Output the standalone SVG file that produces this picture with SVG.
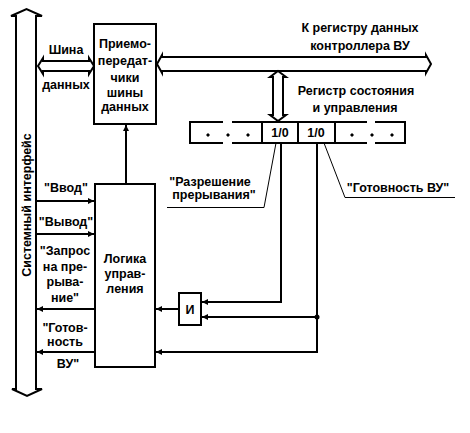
<svg xmlns="http://www.w3.org/2000/svg" width="470" height="433" viewBox="0 0 470 433">
<style>
.t{font-family:"Liberation Sans",Arial,sans-serif;font-weight:bold;font-size:12.5px;fill:#000;text-anchor:middle}
.ln{stroke:#000;stroke-width:2;fill:none}
.thin{stroke:#000;stroke-width:1;fill:none}
.box{fill:#fff;stroke:#000;stroke-width:2}
.bus{fill:#fff;stroke:#000;stroke-width:2;stroke-linejoin:miter}
</style>
<defs>
<marker id="ah" markerUnits="userSpaceOnUse" markerWidth="7" markerHeight="7" refX="6" refY="3" orient="auto">
<path d="M0,0 L6,3 L0,6 z" fill="#000"/>
</marker>
</defs>
<rect width="470" height="433" fill="#fff"/>

<g id="system-interface">
<path class="bus" d="M16,389 L16,16 L11,16 L26.5,9 L42,16 L36,16 L36,389 L42,389 L27,396 L12,389 Z"/>
<text class="t" transform="translate(31,205) rotate(-90)">Системный интерфейс</text>
</g>

<g id="data-bus-left">
<path class="bus" d="M38,66 L43,58 L43,61 L89,61 L89,58 L94,66 L89,74 L89,71 L43,71 L43,74 Z"/>
<text class="t" x="66" y="54">Шина</text>
<text class="t" x="66" y="89">данных</text>
</g>

<g id="data-bus-top">
<path class="bus" d="M157,64 L162,55 L162,57 L426,57 L426,55 L431,64 L426,73 L426,71 L162,71 L162,73 Z"/>
<text class="t" x="360" y="32">К регистру данных</text>
<text class="t" x="360" y="50">контроллера ВУ</text>
</g>

<g id="reg-bus">
<path class="bus" d="M278,71 L286,77 L283,77 L283,115 L286,115 L278,121 L270,115 L273,115 L273,77 L270,77 Z"/>
<text class="t" x="356" y="95">Регистр состояния</text>
<text class="t" x="355" y="112">и управления</text>
</g>

<g id="transceivers">
<rect class="box" x="94" y="24" width="62" height="100"/>
<text class="t" x="125" y="48">Приемо-</text>
<text class="t" x="125" y="65">передат-</text>
<text class="t" x="125" y="82">чики</text>
<text class="t" x="125" y="97">шины</text>
<text class="t" x="125" y="111">данных</text>
</g>

<g id="logic">
<rect class="box" x="95" y="184" width="60" height="183"/>
<text class="t" x="125" y="263">Логика</text>
<text class="t" x="125" y="278">управ-</text>
<text class="t" x="125" y="293">ления</text>
</g>

<g id="and-gate">
<rect class="box" x="179" y="293" width="22" height="32"/>
<text class="t" x="190" y="314">И</text>
</g>

<g id="register">
<path class="ln" d="M223,122 L190,122 L190,143 L223,143 M232,122 L367,122 M232,143 L367,143 M375,122 L405,122 L405,143 L375,143 M262,122 L262,143 M298,122 L298,143 M335,122 L335,143"/>
<g fill="#000">
<path d="M208,133 l2,2 l-2,2 l-2,-2 z"/>
<path d="M228,133 l2,2 l-2,2 l-2,-2 z"/>
<path d="M248,133 l2,2 l-2,2 l-2,-2 z"/>
<path d="M352,133 l2,2 l-2,2 l-2,-2 z"/>
<path d="M372,133 l2,2 l-2,2 l-2,-2 z"/>
<path d="M392,133 l2,2 l-2,2 l-2,-2 z"/>
</g>
<text class="t" x="280" y="137">1/0</text>
<text class="t" x="316" y="137">1/0</text>
</g>

<g id="labels">
<text class="t" x="210" y="186">"Разрешение</text>
<text class="t" x="214" y="199">прерывания"</text>
<path class="thin" d="M167,207.5 L264,207.5 L276,143"/>
<text class="t" x="398" y="192">"Готовность ВУ"</text>
<path class="thin" d="M455,197.5 L345,197.5 L324,143"/>
<text class="t" x="66" y="192">"Ввод"</text>
<text class="t" x="66" y="226">"Вывод"</text>
<text class="t" x="65" y="255">"Запрос</text>
<text class="t" x="65" y="271">на пре-</text>
<text class="t" x="65" y="286">рыва-</text>
<text class="t" x="65" y="302">ние"</text>
<text class="t" x="65" y="332">"Готов-</text>
<text class="t" x="65" y="346">ность</text>
<text class="t" x="68" y="368">ВУ"</text>
</g>

<g id="connectors">
<path class="ln" d="M126,184 L126,125" marker-end="url(#ah)"/>
<path class="ln" d="M36,201 L94,201" marker-end="url(#ah)"/>
<path class="ln" d="M36,234 L94,234" marker-end="url(#ah)"/>
<path class="ln" d="M95,309 L37,309" marker-end="url(#ah)"/>
<path class="ln" d="M95,352 L37,352" marker-end="url(#ah)"/>
<path class="ln" d="M179,309 L156,309" marker-end="url(#ah)"/>
<path class="ln" d="M281,143 L281,302 L202,302" marker-end="url(#ah)"/>
<path class="ln" d="M317,143 L317,352 L156,352" marker-end="url(#ah)"/>
<path class="ln" d="M317,317 L202,317" marker-end="url(#ah)"/>
<circle cx="317" cy="317" r="2.5" fill="#000"/>
</g>
</svg>
